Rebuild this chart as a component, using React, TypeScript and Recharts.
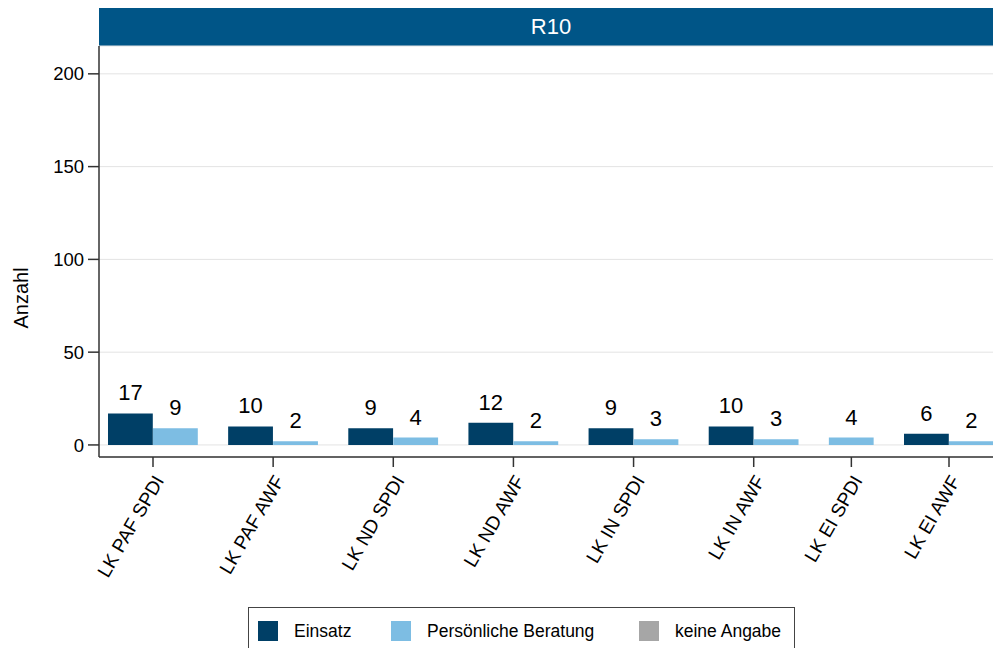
import React from 'react';
import { BarChart, Bar, XAxis, YAxis, CartesianGrid, LabelList } from 'recharts';

const categories = [
  'LK PAF SPDI',
  'LK PAF AWF',
  'LK ND SPDI',
  'LK ND AWF',
  'LK IN SPDI',
  'LK IN AWF',
  'LK EI SPDI',
  'LK EI AWF',
];
const einsatz = [17, 10, 9, 12, 9, 10, null, 6];
const beratung = [9, 2, 4, 2, 3, 3, 4, 2];
const keineAngabe = [null, null, null, null, null, null, null, null];
const yTicks = [0, 50, 100, 150, 200];

const series = [
  { key: 'einsatz', name: 'Einsatz', color: '#003f66', values: einsatz },
  { key: 'beratung', name: 'Persönliche Beratung', color: '#7dbde3', values: beratung },
  { key: 'keineAngabe', name: 'keine Angabe', color: '#a6a6a6', values: keineAngabe },
];

// Stata-like layout in bar-width units: bars touch inside a group,
// groups separated by 0.67 bar widths, missing bars take no room.
const GROUP_GAP = 0.67;
const EDGE = 0.2;
const rows: Array<Record<string, number>> = [];
const centres: number[] = [];
let cursor = EDGE;
categories.forEach((_, i) => {
  if (i > 0) cursor += GROUP_GAP;
  const start = cursor;
  series.forEach((s) => {
    const v = s.values[i];
    if (v == null) return;
    rows.push({ pos: cursor + 0.5, [s.key]: v });
    cursor += 1;
  });
  centres.push((start + cursor) / 2);
});
const xMax = cursor + EDGE;

const FONT = '"Liberation Sans", Arial, Helvetica, sans-serif';
const legendColWidths = [133, 248, undefined];

function CategoryTick(props: any) {
  const { x, y, payload } = props;
  const idx = centres.findIndex((c) => Math.abs(c - payload.value) < 1e-6);
  const ax = x + 6;
  const ay = y + 10;
  return (
    <text
      x={ax}
      y={ay}
      dy="0.35em"
      textAnchor="end"
      transform={`rotate(-60, ${ax}, ${ay})`}
      fontSize={19}
      fill="#000"
      fontFamily={FONT}
    >
      {categories[idx]}
    </text>
  );
}

export default function App() {
  return (
    <div style={{ position: 'fixed', left: 0, top: 0, width: 993, height: 648, overflow: 'hidden', background: '#fff', fontFamily: FONT }}>
      <div style={{ position: 'absolute', left: 8, top: 8, width: 1000, height: 640 }}>
        <div
          style={{
            position: 'absolute',
            left: 91,
            top: 0,
            width: 904,
            height: 38,
            background: '#005587',
            color: '#fff',
            fontSize: 22,
            display: 'flex',
            alignItems: 'center',
            justifyContent: 'center',
          }}
        >
          R10
        </div>

        <BarChart width={1000} height={640} data={rows} margin={{ top: 38, right: 5, left: 0, bottom: 41 }}>
          <CartesianGrid vertical={false} stroke="#e3e3e3" strokeWidth={1} />
          <XAxis
            dataKey="pos"
            type="number"
            domain={[0, xMax]}
            allowDataOverflow
            ticks={centres}
            interval={0}
            tick={<CategoryTick />}
            tickSize={10}
            tickMargin={0}
            height={150}
            axisLine={{ stroke: '#333', strokeWidth: 1.5 }}
            tickLine={{ stroke: '#333', strokeWidth: 1.5 }}
          />
          <YAxis
            type="number"
            domain={[-6.5, 215]}
            allowDataOverflow
            ticks={yTicks}
            interval={0}
            width={91}
            tickSize={11}
            tickMargin={4}
            tick={{ fontSize: 18.5, fill: '#000', fontFamily: FONT }}
            axisLine={{ stroke: '#333', strokeWidth: 1.5 }}
            tickLine={{ stroke: '#333', strokeWidth: 1.5 }}
          />
          {series.map((s) => (
            <Bar
              key={s.key}
              dataKey={s.key}
              name={s.name}
              stackId="a"
              fill={s.color}
              barSize={44.8}
              isAnimationActive={false}
            >
              <LabelList dataKey={s.key} position="top" offset={13} fontSize={22} fill="#000" fontFamily={FONT} />
            </Bar>
          ))}
        </BarChart>

        <div
          style={{
            position: 'absolute',
            left: 13,
            top: 290,
            transform: 'translate(-50%, -50%) rotate(-90deg)',
            fontSize: 20,
            color: '#000',
            whiteSpace: 'nowrap',
          }}
        >
          Anzahl
        </div>

        <div
          style={{
            position: 'absolute',
            left: 240,
            top: 599,
            width: 547,
            height: 48,
            boxSizing: 'border-box',
            border: '1px solid #444',
            display: 'flex',
            alignItems: 'center',
            paddingLeft: 9,
            fontSize: 17.5,
            color: '#000',
            background: '#fff',
          }}
        >
          {series.map((s, i) => (
            <div
              key={s.key}
              style={{ display: 'flex', alignItems: 'center', width: legendColWidths[i], flexShrink: 0 }}
            >
              <span style={{ width: 20, height: 20, background: s.color, marginRight: 16, display: 'inline-block' }} />
              <span>{s.name}</span>
            </div>
          ))}
        </div>
      </div>
    </div>
  );
}
